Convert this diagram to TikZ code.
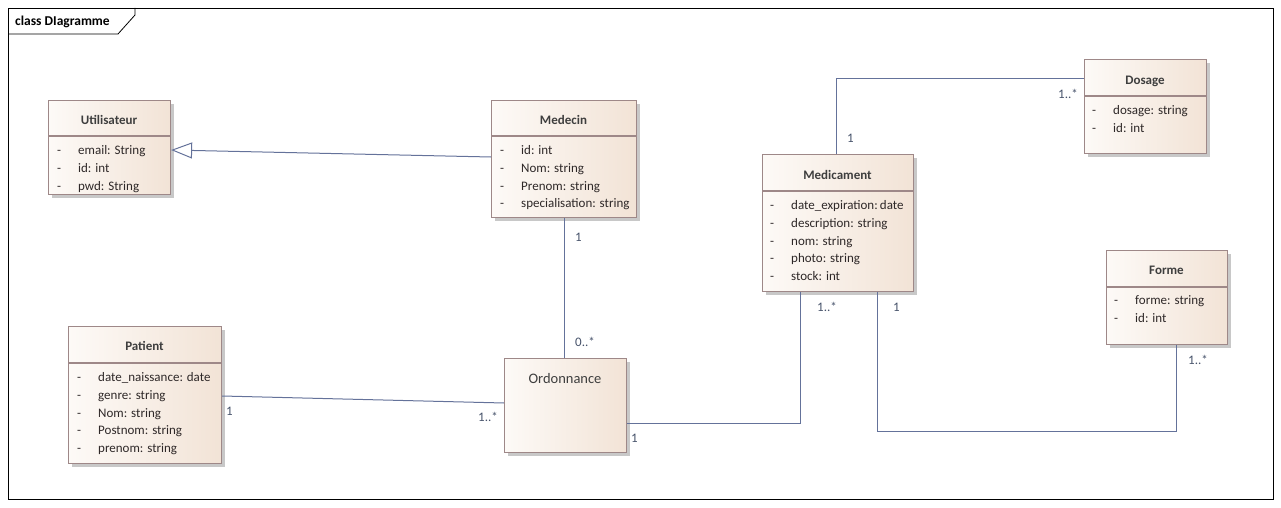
\documentclass[tikz,border=0pt]{standalone}
\usepackage{fontspec}
\setmainfont{Carlito}
\usetikzlibrary{arrows.meta,shadows,calc}

\definecolor{fillL}{HTML}{FDFAF7}
\definecolor{fillR}{HTML}{F2E3D6}
\definecolor{boxline}{HTML}{9E8888}
\definecolor{shadowc}{HTML}{C8C8C8}
\definecolor{connc}{HTML}{64729A}
\definecolor{titlec}{HTML}{3E3E3E}
\definecolor{attrc}{HTML}{2E2828}
\definecolor{multc}{HTML}{46526A}

% attribute compartment: dash column + name column
\newcommand{\umlattrs}[1]{%
  \fontsize{13}{17.8}\selectfont
  \begin{tabular}[t]{@{}p{21pt}@{}l@{}}#1\end{tabular}}

\begin{document}
\begin{tikzpicture}[x=1pt,y=-1pt,
  every node/.style={font=\fontsize{13}{17.8}\selectfont},
  classbox/.style={draw=boxline, line width=1.1pt, left color=fillL, right color=fillR,
    inner sep=0pt, anchor=north west,
    drop shadow={shadow xshift=3pt, shadow yshift=-3pt, fill=shadowc, opacity=1}},
  sepline/.style={draw=boxline, line width=1.1pt},
  classname/.style={anchor=base, inner sep=0pt, text=titlec, font=\fontsize{13}{17.8}\selectfont\bfseries},
  attrlist/.style={anchor=base west, inner sep=0pt, text=attrc},
  conn/.style={draw=connc, line width=1pt},
  mult/.style={anchor=base west, inner sep=0pt, text=multc}
]
\useasboundingbox (0,0) rectangle (1281,508);

% diagram frame and its name tab
\node[draw=black, line width=0.8pt, inner sep=0pt, anchor=north west,
      minimum width=1265pt, minimum height=491pt] (frame) at (8,8) {};
\draw[black, line width=0.8pt] (frame.north west |- 0,34) -- (118,34) -- (135,15) -- (frame.north west -| 135,0);
\node[anchor=base west, inner sep=0pt, font=\fontsize{13.5}{16}\selectfont\bfseries] (frametitle) at (15,25.5) {class DIagramme};

% ---- classes ----
% Utilisateur
\node[classbox, minimum width=122pt, minimum height=94pt] (util) at (48,100) {};
\draw[sepline] (util.west |- 0,136) -- (util.east |- 0,136);
\node[classname] (utilT) at (109,124.5) {Utilisateur};
\node[attrlist] (utilA) at (57,154.5) {\umlattrs{- & email: String\\ - & id: int\\ - & pwd: String}};

% Medecin
\node[classbox, minimum width=145pt, minimum height=117pt] (med) at (491,100) {};
\draw[sepline] (med.west |- 0,136) -- (med.east |- 0,136);
\node[classname] (medT) at (563.5,124.5) {Medecin};
\node[attrlist] (medA) at (500,154.5) {\umlattrs{- & id: int\\ - & Nom: string\\ - & Prenom: string\\ - & specialisation: string}};

% Medicament
\node[classbox, minimum width=151pt, minimum height=137pt] (medic) at (762,154) {};
\draw[sepline] (medic.west |- 0,191) -- (medic.east |- 0,191);
\node[classname] (medicT) at (837.5,179.5) {Medicament};
\node[attrlist] (medicA) at (770,209.5) {\umlattrs{- & date\_expiration:\,date\\ - & description: string\\ - & nom: string\\ - & photo: string\\ - & stock: int}};

% Dosage
\node[classbox, minimum width=122pt, minimum height=94pt] (dos) at (1084,59) {};
\draw[sepline] (dos.west |- 0,96) -- (dos.east |- 0,96);
\node[classname] (dosT) at (1145,84.5) {Dosage};
\node[attrlist] (dosA) at (1092,114.5) {\umlattrs{- & dosage: string\\ - & id: int}};

% Forme
\node[classbox, minimum width=121pt, minimum height=94pt] (forme) at (1106,250) {};
\draw[sepline] (forme.west |- 0,287) -- (forme.east |- 0,287);
\node[classname] (formeT) at (1166.5,274.5) {Forme};
\node[attrlist] (formeA) at (1114,304.5) {\umlattrs{- & forme: string\\ - & id: int}};

% Patient
\node[classbox, minimum width=153pt, minimum height=137pt] (pat) at (68,326) {};
\draw[sepline] (pat.west |- 0,363) -- (pat.east |- 0,363);
\node[classname] (patT) at (144.5,350.5) {Patient};
\node[attrlist] (patA) at (77,381.5) {\umlattrs{- & date\_naissance: date\\ - & genre: string\\ - & Nom: string\\ - & Postnom: string\\ - & prenom: string}};

% Ordonnance
\node[classbox, minimum width=122pt, minimum height=94pt] (ord) at (504,358) {};
\node[anchor=base, inner sep=0pt, text=titlec, font=\fontsize{14.5}{17}\selectfont] (ordT) at (565,383) {Ordonnance};

% ---- relations ----
% generalisation Medecin -> Utilisateur
\draw[conn, -{Triangle[open, length=21pt, width=16pt, line width=1pt]}] (med.west |- 0,157) -- (util.east |- 0,150);

% Medecin -- Ordonnance
\draw[conn] (med.south -| 564,0) -- (ord.north -| 564,0);
\node[mult] (m1) at (575,241.5) {1};
\node[mult] (m2) at (575,346.5) {0..*};

% Patient -- Ordonnance
\draw[conn] (pat.east |- 0,396) -- (ord.west |- 0,403);
\node[mult] (m3) at (226,415.5) {1};
\node[mult] (m4) at (478,421.5) {1..*};

% Ordonnance -- Medicament
\draw[conn] (ord.east |- 0,423) -| (medic.south -| 800,0);
\node[mult] (m5) at (631,442.5) {1};
\node[mult] (m6) at (817,311.5) {1..*};

% Medicament -- Forme
\draw[conn] (medic.south -| 877,0) -- ++(0,139) -| (forme.south -| 1176,0);
\node[mult] (m7) at (893,311.5) {1};
\node[mult] (m8) at (1188,364.5) {1..*};

% Medicament -- Dosage
\draw[conn] (medic.north -| 836,0) |- (dos.west |- 0,79);
\node[mult] (m9) at (847,142.5) {1};
\node[mult] (m10) at (1058,98.5) {1..*};

\end{tikzpicture}
\end{document}
